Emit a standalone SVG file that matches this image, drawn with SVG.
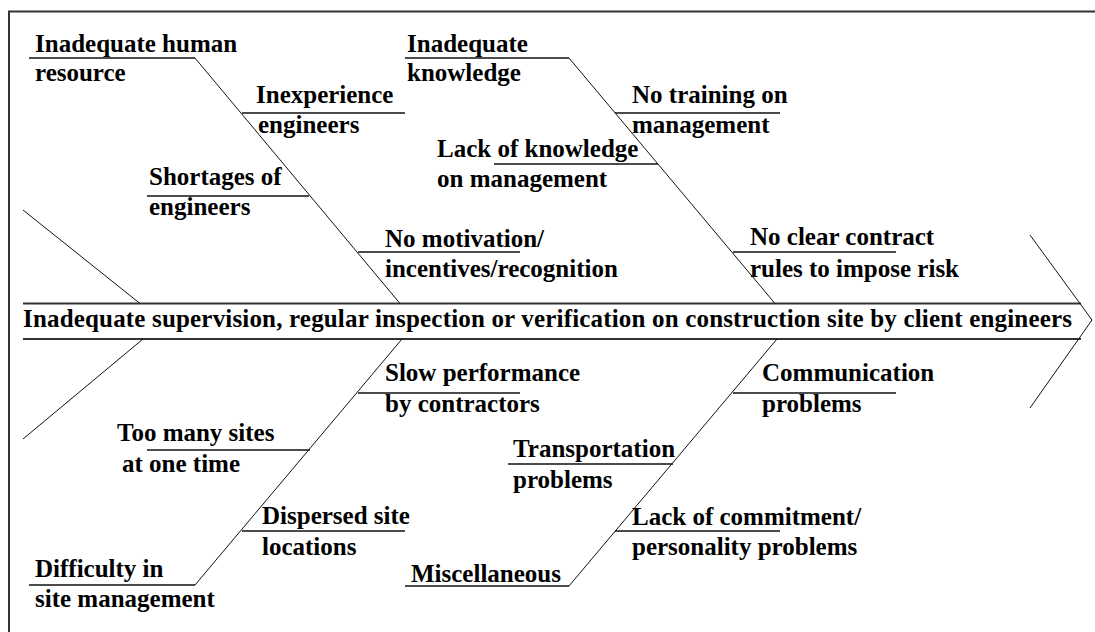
<svg xmlns="http://www.w3.org/2000/svg" width="1095" height="632" viewBox="0 0 1095 632">
  <style>
    text { font-family: "Liberation Serif", "Times New Roman", serif; font-weight: bold; font-size: 25px; fill: #000; }
    .rule { stroke: #111; stroke-width: 1.4; fill: none; }
    .bone { stroke: #111; stroke-width: 1; fill: none; }
    .spine { stroke: #333; stroke-width: 1.8; fill: none; }
    .frame { stroke: #333; stroke-width: 2; fill: none; }
  </style>
  <rect width="1095" height="632" fill="#fff"/>

  <!-- frame (top and left edges) -->
  <path class="frame" d="M9 632 V11.5 H1095"/>

  <!-- connectors: spine, tail, head and category bones -->
  <g id="connectors">
    <path class="spine" d="M23 303.5 H1081 M23 339 H1081"/>
    <path class="bone" d="M1030 235 L1092 320 L1030 408"/>
    <path class="bone" d="M23 210 L140 303.5 M143 339 L23 439"/>
    <path class="bone" d="M195 58 L400 303.5"/>
    <path class="bone" d="M569 58 L775 303.5"/>
    <path class="bone" d="M402 339 L195 585"/>
    <path class="bone" d="M777 339 L569 586"/>
  </g>

  <!-- effect -->
  <g id="effect">
    <text x="23" y="327" textLength="1049" lengthAdjust="spacing">Inadequate supervision, regular inspection or verification on construction site by client engineers</text>
  </g>

  <!-- category: human resource -->
  <g id="human-resource">
    <line class="rule" x1="29" y1="58" x2="195" y2="58"/>
    <text x="35" y="52">Inadequate human</text>
    <text x="35" y="81">resource</text>
  </g>
  <g id="inexperience">
    <line class="rule" x1="242" y1="113" x2="405" y2="113"/>
    <text x="256" y="103">Inexperience</text>
    <text x="258" y="133">engineers</text>
  </g>
  <g id="shortages">
    <line class="rule" x1="147" y1="196" x2="309" y2="196"/>
    <text x="149" y="185">Shortages of</text>
    <text x="149" y="215">engineers</text>
  </g>
  <g id="no-motivation">
    <line class="rule" x1="358" y1="252" x2="520" y2="252"/>
    <text x="385" y="247">No motivation/</text>
    <text x="385" y="277">incentives/recognition</text>
  </g>

  <!-- category: knowledge -->
  <g id="knowledge">
    <line class="rule" x1="405" y1="58" x2="569" y2="58"/>
    <text x="407" y="52">Inadequate</text>
    <text x="407" y="81">knowledge</text>
  </g>
  <g id="no-training">
    <line class="rule" x1="615" y1="113" x2="780" y2="113"/>
    <text x="632" y="103">No training on</text>
    <text x="632" y="133">management</text>
  </g>
  <g id="lack-knowledge">
    <line class="rule" x1="494" y1="164" x2="658" y2="164"/>
    <text x="437" y="157">Lack of knowledge</text>
    <text x="437" y="187">on management</text>
  </g>
  <g id="no-contract-rules">
    <line class="rule" x1="733" y1="252" x2="896" y2="252"/>
    <text x="750" y="245">No clear contract</text>
    <text x="750" y="277">rules to impose risk</text>
  </g>

  <!-- category: site management -->
  <g id="site-management">
    <line class="rule" x1="29" y1="585" x2="195" y2="585"/>
    <text x="35" y="577">Difficulty in</text>
    <text x="35" y="607">site management</text>
  </g>
  <g id="slow-performance">
    <line class="rule" x1="358" y1="393" x2="520" y2="393"/>
    <text x="385" y="381">Slow performance</text>
    <text x="385" y="412">by contractors</text>
  </g>
  <g id="too-many-sites">
    <line class="rule" x1="147" y1="450" x2="310" y2="450"/>
    <text x="117" y="441">Too many sites</text>
    <text x="122" y="472">at one time</text>
  </g>
  <g id="dispersed-sites">
    <line class="rule" x1="242" y1="531" x2="405" y2="531"/>
    <text x="262" y="524">Dispersed site</text>
    <text x="262" y="555">locations</text>
  </g>

  <!-- category: miscellaneous -->
  <g id="miscellaneous">
    <line class="rule" x1="405" y1="586" x2="569" y2="586"/>
    <text x="411" y="582">Miscellaneous</text>
  </g>
  <g id="communication">
    <line class="rule" x1="733" y1="393" x2="896" y2="393"/>
    <text x="762" y="381">Communication</text>
    <text x="762" y="412">problems</text>
  </g>
  <g id="transportation">
    <line class="rule" x1="508" y1="464" x2="673" y2="464"/>
    <text x="513" y="457">Transportation</text>
    <text x="513" y="488">problems</text>
  </g>
  <g id="commitment">
    <line class="rule" x1="615" y1="531" x2="780" y2="531"/>
    <text x="632" y="525">Lack of commitment/</text>
    <text x="632" y="555">personality problems</text>
  </g>
</svg>
